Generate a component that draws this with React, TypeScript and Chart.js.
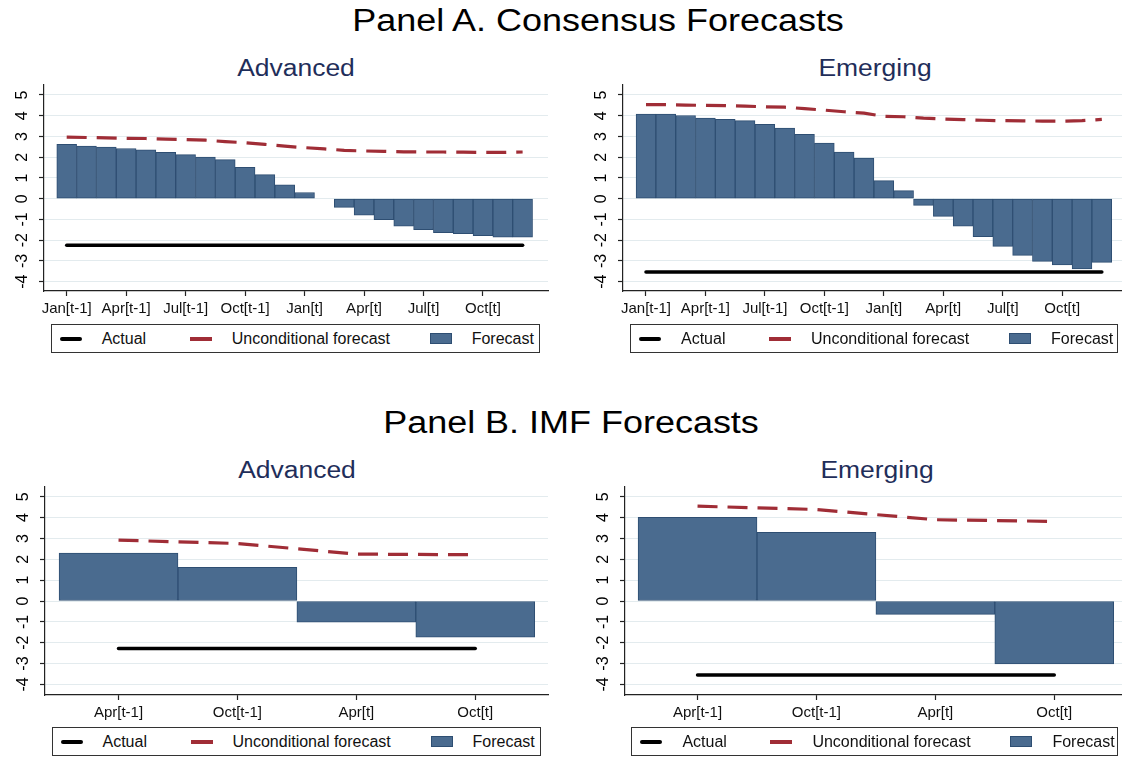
import React, { useEffect, useRef } from "react";
import { Chart, registerables } from "chart.js";

Chart.register(...registerables);

// ---------------- DATA ----------------
const monthLabels = [
  "Jan[t-1]", "Feb[t-1]", "Mar[t-1]", "Apr[t-1]", "May[t-1]", "Jun[t-1]",
  "Jul[t-1]", "Aug[t-1]", "Sep[t-1]", "Oct[t-1]", "Nov[t-1]", "Dec[t-1]",
  "Jan[t]", "Feb[t]", "Mar[t]", "Apr[t]", "May[t]", "Jun[t]",
  "Jul[t]", "Aug[t]", "Sep[t]", "Oct[t]", "Nov[t]", "Dec[t]",
];
const consensusMonths = [0, 1, 2, 3, 4, 5, 6, 7, 8, 9, 10, 11, 12, 13, 14, 15, 16, 17, 18, 19, 20, 21, 22, 23];
const consensusTickMonths = [0, 3, 6, 9, 12, 15, 18, 21];
const imfMonths = [3, 9, 15, 21];
const yTickValues = [-4, -3, -2, -1, 0, 1, 2, 3, 4, 5];

const seriesLabels = ["Actual", "Unconditional forecast", "Forecast"];

// Panel A. Consensus – Advanced
const advConsensusForecast = [2.62, 2.54, 2.49, 2.42, 2.36, 2.23, 2.12, 2.01, 1.88, 1.51, 1.16, 0.67, 0.3, 0.0, -0.42, -0.8, -1.01, -1.32, -1.49, -1.64, -1.69, -1.78, -1.85, -1.85];
const advConsensusUncond = [2.97, 2.95, 2.93, 2.91, 2.9, 2.87, 2.85, 2.82, 2.75, 2.7, 2.62, 2.53, 2.46, 2.4, 2.33, 2.3, 2.28, 2.26, 2.25, 2.25, 2.24, 2.23, 2.23, 2.25];
const advConsensusActual = -2.25;

// Panel A. Consensus – Emerging
const emgConsensusForecast = [4.08, 4.08, 4.01, 3.88, 3.82, 3.76, 3.58, 3.4, 3.1, 2.68, 2.25, 1.96, 0.87, 0.39, -0.32, -0.85, -1.33, -1.83, -2.3, -2.73, -3.02, -3.19, -3.39, -3.07];
const emgConsensusUncond = [4.53, 4.53, 4.51, 4.5, 4.49, 4.46, 4.43, 4.41, 4.34, 4.27, 4.19, 4.12, 3.97, 3.95, 3.88, 3.84, 3.81, 3.78, 3.76, 3.75, 3.74, 3.74, 3.76, 3.82];
const emgConsensusActual = -3.53;

// Panel B. IMF – Advanced
const advImfForecast = [2.3, 1.61, -1.02, -1.74];
const advImfUncond = [2.92, 2.76, 2.25, 2.22];
const advImfActual = -2.28;

// Panel B. IMF – Emerging
const emgImfForecast = [4.01, 3.29, -0.64, -3.02];
const emgImfUncond = [4.55, 4.39, 3.9, 3.82];
const emgImfActual = -3.55;

// ---------------- STYLE ----------------
const FONT = '"Liberation Sans", Arial, Helvetica, sans-serif';
const BAR_FILL = "#4a6b8f";
const BAR_EDGE = "#2e4e72";
const RED = "#a02d36";
const AXIS = "#222";
const GRID = "#e3ebee";
const SUB_COLOR = "#1f2e5a";

const YW = 45; // y-axis band width
const XH = 34; // x-axis band height
const PT = 6; // top padding
const PR = 4; // right padding

type Spec = {
  plotLeft: number; plotTop: number; plotRight: number; plotBottom: number;
  xMin: number; xMax: number; yMin: number; yMax: number;
  months: number[]; tickMonths: number[];
  forecast: number[]; uncond: number[]; actual: number;
};

const yLabelPlugin = {
  id: "yRotLabels",
  afterDraw(chart: any) {
    const ys = chart.scales.y;
    const ctx = chart.ctx;
    ctx.save();
    ctx.font = `16px ${FONT}`;
    ctx.fillStyle = "#000";
    ctx.textAlign = "center";
    ctx.textBaseline = "alphabetic";
    for (const v of yTickValues) {
      const py = ys.getPixelForValue(v);
      ctx.save();
      ctx.translate(chart.chartArea.left - 17, py);
      ctx.rotate(-Math.PI / 2);
      ctx.fillText(String(v), 0, 0);
      ctx.restore();
    }
    ctx.restore();
  },
};

function makeConfig(s: Spec): any {
  const first = s.months[0];
  const last = s.months[s.months.length - 1];
  return {
    type: "bar",
    data: {
      datasets: [
        {
          type: "line",
          label: seriesLabels[0],
          data: [{ x: first, y: s.actual }, { x: last, y: s.actual }],
          borderColor: "#000",
          borderWidth: 3.5,
          borderCapStyle: "round",
          pointRadius: 0,
          tension: 0,
          order: 0,
        },
        {
          type: "line",
          label: seriesLabels[1],
          data: s.months.map((m, i) => ({ x: m, y: s.uncond[i] })),
          borderColor: RED,
          borderWidth: 3.2,
          borderDash: [20, 10],
          pointRadius: 0,
          tension: 0,
          order: 1,
        },
        {
          type: "bar",
          label: seriesLabels[2],
          data: s.months.map((m, i) => ({ x: m, y: s.forecast[i] })),
          backgroundColor: BAR_FILL,
          borderColor: BAR_EDGE,
          borderWidth: 1,
          borderSkipped: false,
          barPercentage: 1,
          categoryPercentage: 1,
          order: 2,
        },
      ],
    },
    options: {
      animation: false,
      responsive: false,
      maintainAspectRatio: false,
      devicePixelRatio: 1,
      layout: { padding: { left: 0, top: PT, right: PR, bottom: 0 } },
      plugins: { legend: { display: false }, tooltip: { enabled: false }, title: { display: false } },
      scales: {
        x: {
          type: "linear",
          min: s.xMin,
          max: s.xMax,
          offset: false,
          afterBuildTicks: (sc: any) => {
            sc.ticks = s.tickMonths.map((v) => ({ value: v }));
          },
          afterFit: (sc: any) => {
            sc.height = XH;
          },
          ticks: {
            autoSkip: false,
            maxRotation: 0,
            minRotation: 0,
            padding: 4,
            color: "#111",
            font: { family: FONT, size: 15 },
            callback: (v: number) => monthLabels[v],
          },
          grid: {
            display: true,
            offset: false,
            drawOnChartArea: false,
            drawTicks: true,
            tickLength: 5,
            tickColor: AXIS,
            tickWidth: 1.2,
          },
          border: { display: true, color: AXIS, width: 1.2 },
        },
        y: {
          type: "linear",
          min: s.yMin,
          max: s.yMax,
          afterBuildTicks: (sc: any) => {
            sc.ticks = yTickValues.map((v) => ({ value: v }));
          },
          afterFit: (sc: any) => {
            sc.width = YW;
          },
          ticks: { display: false },
          grid: {
            display: true,
            color: GRID,
            lineWidth: 1,
            drawTicks: true,
            tickLength: 5,
            tickColor: AXIS,
            tickWidth: 1.2,
          },
          border: { display: true, color: AXIS, width: 1.2 },
        },
      },
    },
    plugins: [yLabelPlugin],
  };
}

function ChartPanel({ spec }: { spec: Spec }) {
  const ref = useRef<HTMLCanvasElement>(null);
  const w = spec.plotRight - spec.plotLeft + YW + PR;
  const h = spec.plotBottom - spec.plotTop + PT + XH;
  useEffect(() => {
    const chart = new Chart(ref.current as HTMLCanvasElement, makeConfig(spec));
    return () => chart.destroy();
  }, []);
  return (
    <canvas
      ref={ref}
      width={w}
      height={h}
      style={{ position: "absolute", left: spec.plotLeft - YW, top: spec.plotTop - PT, width: w, height: h }}
    />
  );
}

function Legend({ left, top, width, height }: { left: number; top: number; width: number; height: number }) {
  const txt: React.CSSProperties = {
    position: "absolute",
    top: "50%",
    transform: "translateY(-50%)",
    lineHeight: 1,
    whiteSpace: "nowrap",
  };
  return (
    <div
      style={{
        position: "absolute",
        left,
        top,
        width,
        height,
        boxSizing: "border-box",
        border: "1.5px solid #333",
        fontFamily: FONT,
        fontSize: 16,
        color: "#111",
        background: "#fff",
      }}
    >
      <div style={{ position: "absolute", left: 8, top: "50%", marginTop: -2, width: 22, height: 4, background: "#000", borderRadius: 2 }} />
      <span style={{ ...txt, left: 50 }}>{seriesLabels[0]}</span>
      <div style={{ position: "absolute", left: 138, top: "50%", marginTop: -2, width: 22, height: 4, background: RED }} />
      <span style={{ ...txt, left: 180 }}>{seriesLabels[1]}</span>
      <div
        style={{
          position: "absolute",
          left: 378,
          top: "50%",
          marginTop: -6,
          width: 22,
          height: 11,
          background: BAR_FILL,
          border: `1px solid ${BAR_EDGE}`,
          boxSizing: "border-box",
        }}
      />
      <span style={{ ...txt, left: 420 }}>{seriesLabels[2]}</span>
    </div>
  );
}

function Text({ cx, top, size, color, children, sx }: any) {
  return (
    <div
      style={{
        position: "absolute",
        left: cx,
        top,
        fontFamily: FONT,
        fontSize: size,
        lineHeight: 1,
        color,
        whiteSpace: "nowrap",
        transform: `translateX(-50%) scaleX(${sx})`,
        transformOrigin: "50% 50%",
      }}
    >
      {children}
    </div>
  );
}

const specs: Spec[] = [
  {
    plotLeft: 44, plotTop: 85, plotRight: 548, plotBottom: 291,
    xMin: -1.145, xMax: 24.28, yMin: -4.45, yMax: 5.48,
    months: consensusMonths, tickMonths: consensusTickMonths,
    forecast: advConsensusForecast, uncond: advConsensusUncond, actual: advConsensusActual,
  },
  {
    plotLeft: 623, plotTop: 85, plotRight: 1127, plotBottom: 291,
    xMin: -1.16, xMax: 24.27, yMin: -4.45, yMax: 5.48,
    months: consensusMonths, tickMonths: consensusTickMonths,
    forecast: emgConsensusForecast, uncond: emgConsensusUncond, actual: emgConsensusActual,
  },
  {
    plotLeft: 45, plotTop: 487, plotRight: 548, plotBottom: 695,
    xMin: -0.71, xMax: 24.67, yMin: -4.51, yMax: 5.47,
    months: imfMonths, tickMonths: imfMonths,
    forecast: advImfForecast, uncond: advImfUncond, actual: advImfActual,
  },
  {
    plotLeft: 625, plotTop: 487, plotRight: 1128, plotBottom: 695,
    xMin: -0.66, xMax: 24.72, yMin: -4.51, yMax: 5.47,
    months: imfMonths, tickMonths: imfMonths,
    forecast: emgImfForecast, uncond: emgImfUncond, actual: emgImfActual,
  },
];

export default function App() {
  return (
    <div
      style={{
        position: "absolute",
        left: 0,
        top: 0,
        width: 1122,
        height: 757,
        overflow: "hidden",
        background: "#fff",
      }}
    >
      <Text cx={597.5} top={4.5} size={31} color="#000" sx={1.16}>Panel A. Consensus Forecasts</Text>
      <Text cx={296} top={56.5} size={23} color={SUB_COLOR} sx={1.15}>Advanced</Text>
      <Text cx={875} top={56.5} size={23} color={SUB_COLOR} sx={1.15}>Emerging</Text>

      <Text cx={570.5} top={407.3} size={31} color="#000" sx={1.16}>Panel B. IMF Forecasts</Text>
      <Text cx={296.5} top={458.5} size={23} color={SUB_COLOR} sx={1.15}>Advanced</Text>
      <Text cx={876.5} top={458.5} size={23} color={SUB_COLOR} sx={1.15}>Emerging</Text>

      {specs.map((s, i) => (
        <ChartPanel key={i} spec={s} />
      ))}

      <Legend left={50.7} top={324.3} width={489} height={28.5} />
      <Legend left={630} top={324.3} width={488} height={28.5} />
      <Legend left={51.5} top={727.3} width={489.5} height={29} />
      <Legend left={631.4} top={727.3} width={487} height={29} />
    </div>
  );
}
